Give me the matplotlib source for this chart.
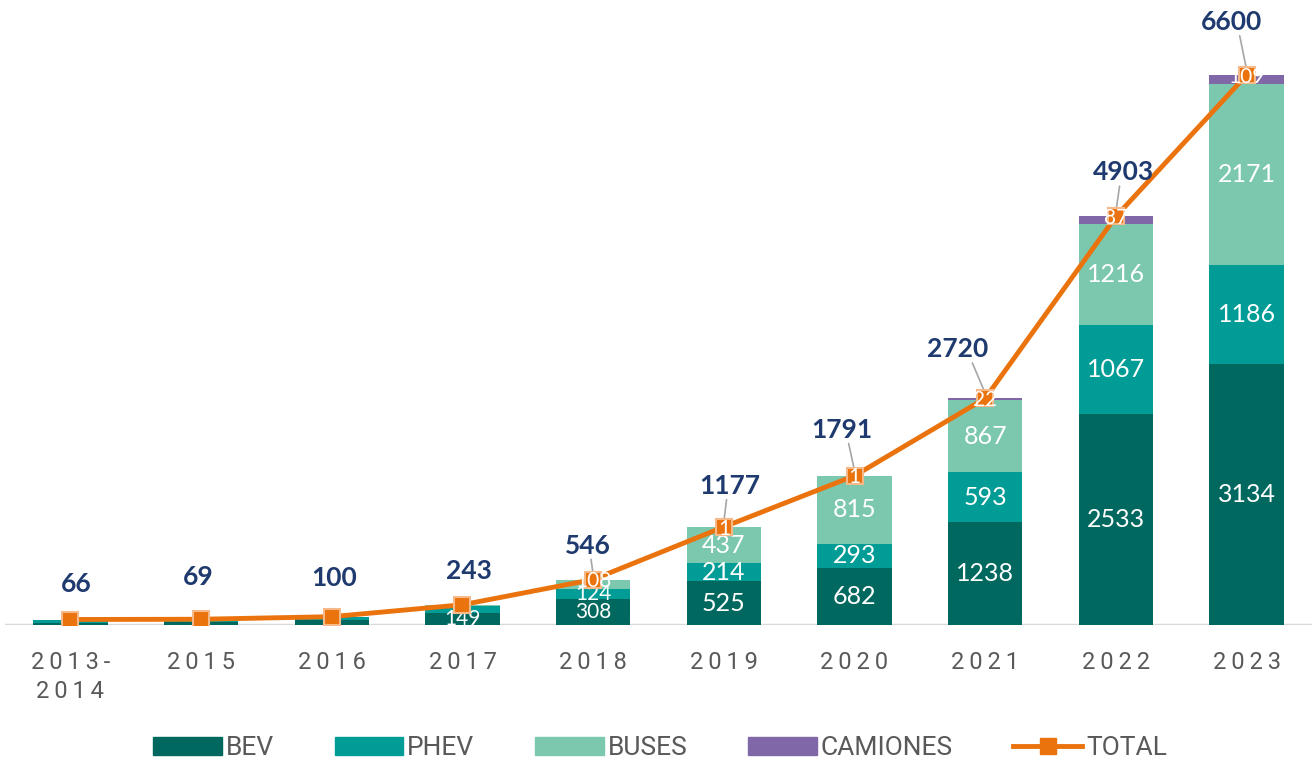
import matplotlib
matplotlib.use("Agg")
import matplotlib.pyplot as plt
import numpy as np
from matplotlib.lines import Line2D
from matplotlib.patches import Patch

# ---- data ----
years = ["2013-\n2014", "2015", "2016", "2017", "2018", "2019", "2020", "2021", "2022", "2023"]
bev = [24, 32, 55, 149, 308, 525, 682, 1238, 2533, 3134]
phev = [42, 37, 45, 81, 124, 214, 293, 593, 1067, 1186]
buses = [0, 0, 0, 13, 108, 437, 815, 867, 1216, 2171]
camiones = [0, 0, 0, 0, 6, 1, 1, 22, 87, 109]
total = [66, 69, 100, 243, 546, 1177, 1791, 2720, 4903, 6600]

# ---- style ----
c_bev = "#00685f"
c_phev = "#009c95"
c_bus = "#7bc8ae"
c_cam = "#8068a8"
c_tot = "#ea730e"
navy = "#1f3a6e"
grey = "#595959"

# label offsets (pixels) for total labels
lab_dx = [6, -3, 2, 6, -5, 6, -13, -28, 8, -15]
lab_dy = [35, 42, 39, 34, 34, 41, 46, 49, 44, 53]

W, H = 1314, 762
fig = plt.figure(figsize=(W / 100, H / 100), dpi=100)
ax = fig.add_axes([5 / W, 137 / H, (1312 - 5) / W, 625 / H])
ax.set_xlim(-0.5, len(years) - 0.5)
ax.set_ylim(0, 7500)
for s in ["top", "right", "left", "bottom"]:
    ax.spines[s].set_visible(False)
ax.set_yticks([])
ax.axhline(0, color="#d9d9d9", lw=2.5, zorder=1)

x = np.arange(len(years))
bw = 0.57
b0 = np.zeros(len(years))
series = [(bev, c_bev), (phev, c_phev), (buses, c_bus), (camiones, c_cam)]
for vals, col in series:
    v = np.array(vals, dtype=float)
    ax.bar(x, v, bw, bottom=b0, color=col, zorder=2, linewidth=0)
    b0 = b0 + v

# total line
ax.plot(x, total, color=c_tot, lw=3.5, marker="s", ms=11, mfc=c_tot, mec="#f6b98a",
        mew=1.5, zorder=4)

# segment labels
b0 = np.zeros(len(years))
for k, (vals, col) in enumerate(series[:3]):
    v = np.array(vals, dtype=float)
    for i in range(len(years)):
        if v[i] >= 100:
            small = total[i] < 1000
            yy = b0[i] + v[i] / 2
            if small and k == 2:
                # small bar: the buses label sits on the line marker
                yy = total[i] - 20
            ax.text(x[i], yy, f"{int(v[i])}", ha="center", va="center",
                    color="white", fontsize=15 if small else 18,
                    family=["Lato", "DejaVu Sans"], zorder=5 if (small and k == 2) else 3)
    b0 = b0 + v

for i in range(len(years)):
    if camiones[i] >= 1 and total[i] >= 1000:
        ax.text(x[i], total[i] - 20, f"{camiones[i]}", ha="center", va="center",
                color="white", fontsize=15, family=["Lato", "DejaVu Sans"], zorder=5)

# total labels
for i in range(len(years)):
    ax.annotate(f"{total[i]}", xy=(x[i], total[i]), xytext=(lab_dx[i], lab_dy[i]),
                textcoords="offset pixels", ha="center", va="center",
                color=navy, fontsize=19, fontweight="bold", family=["Lato", "DejaVu Sans"],
                zorder=6)
    if i >= 4:
        ax.annotate("", xy=(x[i], total[i] + 60), xytext=(lab_dx[i] * 0.5, lab_dy[i] - 16),
                    textcoords="offset pixels",
                    arrowprops=dict(arrowstyle="-", color="#a6a6a6", lw=1.2), zorder=3)

# x tick labels (letter-spaced)
def spaced(s):
    return "\n".join("\u2009".join(list(part)) for part in s.split("\n"))

ax.set_xticks(x)
ax.set_xticklabels([spaced(y) for y in years], color=grey, fontsize=17,
                   family=["Roboto", "DejaVu Sans"], linespacing=1.3)
ax.tick_params(axis="x", length=0, pad=19)

# legend
handles = [Patch(color=c_bev), Patch(color=c_phev), Patch(color=c_bus), Patch(color=c_cam),
           Line2D([0], [0], color=c_tot, lw=3.5, marker="s", ms=11)]
labels = ["BEV", "PHEV", "BUSES", "CAMIONES", "TOTAL"]
leg = fig.legend(handles, labels, loc="center", bbox_to_anchor=(660 / W, 1 - 748 / H),
                 ncol=5, frameon=False, prop={"family": ["Roboto", "DejaVu Sans"], "size": 19},
                 handlelength=2.6, handleheight=0.7,
                 handletextpad=0.15, columnspacing=2.3, labelcolor=grey)

fig.savefig("out.png", dpi=100)
